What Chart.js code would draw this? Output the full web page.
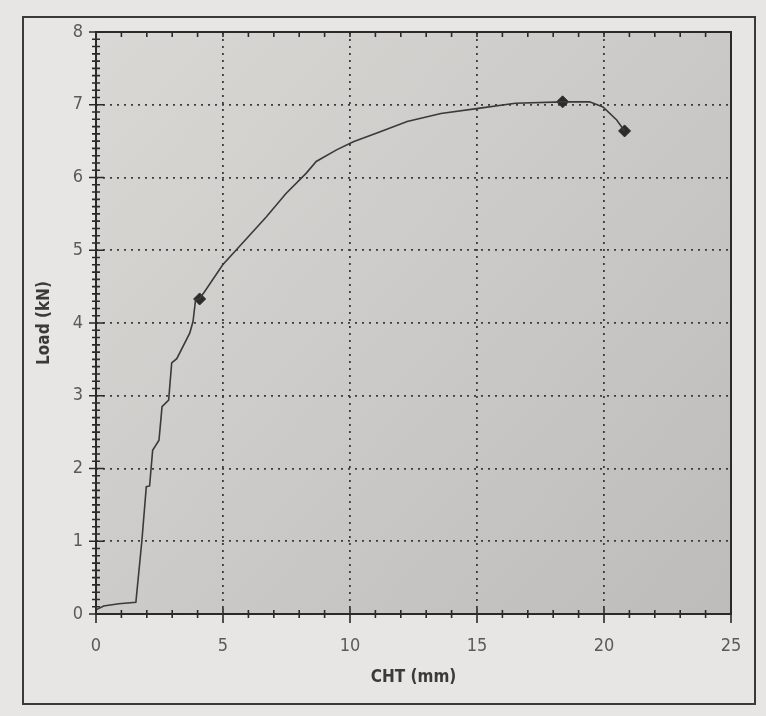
<!DOCTYPE html>
<html>
<head>
<meta charset="utf-8">
<script src="https://cdn.jsdelivr.net/npm/chart.js@4.4.0/dist/chart.umd.min.js"></script>
<style>
  html, body { margin: 0; padding: 0; background: #e8e6e4; }
  #wrap { width: 766px; height: 716px; }
</style>
</head>
<body>
<div id="wrap"><canvas id="loadChart" width="766" height="716"></canvas></div>
<script>
// load / displacement curve
const cht = [0.02, 0.3, 0.9, 1.57, 1.81, 1.98, 2.11, 2.23, 2.48, 2.60, 2.86, 2.98, 3.18, 3.69, 3.82, 3.92,
  4.08, 4.99, 5.77, 6.71, 7.48, 8.28, 8.67, 9.47, 10.13, 11.19, 12.25, 13.58, 15.05, 16.51,
  18.37, 19.43, 19.96, 20.5, 20.81];
const load = [0.06, 0.11, 0.14, 0.16, 1.02, 1.75, 1.76, 2.25, 2.39, 2.85, 2.94, 3.45, 3.51, 3.86, 4.02, 4.32,
  4.33, 4.80, 5.10, 5.46, 5.78, 6.06, 6.22, 6.38, 6.49, 6.63, 6.77, 6.88, 6.95, 7.02,
  7.04, 7.04, 6.97, 6.79, 6.64];

// diamond markers
const markerCht = [4.08, 18.37, 20.81];
const markerLoad = [4.33, 7.04, 6.64];

const xTicks = [0, 5, 10, 15, 20, 25];
const yTicks = [0, 1, 2, 3, 4, 5, 6, 7, 8];

const narrow = '"Liberation Sans Narrow", "DejaVu Sans Condensed", "Roboto", sans-serif';

const toPoints = (xs, ys) => xs.map((x, i) => ({ x: x, y: ys[i] }));

// background, outer frame, plot panel, axis lines and tick marks
const framePlugin = {
    id: 'frame',
    beforeDraw(chart) {
        const ctx = chart.ctx;
        const a = chart.chartArea;
        ctx.save();
        ctx.fillStyle = '#e8e6e4';
        ctx.fillRect(0, 0, chart.width, chart.height);

        ctx.strokeStyle = '#3a3a3a';
        ctx.lineWidth = 2;
        ctx.strokeRect(23, 17, 732, 687);

        const g = ctx.createLinearGradient(a.left, a.top, a.right, a.bottom);
        g.addColorStop(0, '#dad8d5');
        g.addColorStop(1, '#bdbcba');
        ctx.fillStyle = g;
        ctx.fillRect(a.left, a.top, a.right - a.left, a.bottom - a.top);
        ctx.restore();
    },
    afterDraw(chart) {
        const ctx = chart.ctx;
        const a = chart.chartArea;
        const xs = chart.scales.x;
        const ys = chart.scales.y;
        ctx.save();
        ctx.strokeStyle = '#2a2a2a';
        ctx.lineWidth = 2;
        ctx.strokeRect(a.left, a.top, a.right - a.left, a.bottom - a.top);

        ctx.lineWidth = 1.6;
        ctx.beginPath();
        for (let v = 0; v <= 25; v++) {
            const px = xs.getPixelForValue(v);
            const major = v % 5 === 0;
            ctx.moveTo(px, a.bottom - (major ? 6 : 4));
            ctx.lineTo(px, a.bottom + (major ? 9 : 4));
            if (v > 0 && v < 25) {
                ctx.moveTo(px, a.top);
                ctx.lineTo(px, a.top + 5);
            }
        }
        for (let i = 0; i <= 80; i++) {
            const py = ys.getPixelForValue(i / 10);
            const major = i % 10 === 0;
            ctx.moveTo(a.left - (major ? 7 : 4), py);
            ctx.lineTo(a.left + (major ? 8 : 4), py);
        }
        ctx.stroke();
        ctx.restore();
    }
};

new Chart(document.getElementById('loadChart'), {
    type: 'scatter',
    data: {
        datasets: [{
            label: 'Load',
            data: toPoints(cht, load),
            showLine: true,
            borderColor: '#3a3a3a',
            borderWidth: 1.6,
            pointRadius: 0,
            tension: 0
        }, {
            label: 'Markers',
            data: toPoints(markerCht, markerLoad),
            showLine: false,
            pointStyle: 'rectRot',
            pointRadius: 6,
            backgroundColor: '#2b2b2b',
            borderColor: '#2b2b2b',
            borderWidth: 1
        }]
    },
    options: {
        responsive: false,
        animation: false,
        layout: { padding: { left: 0, top: 32, right: 35, bottom: 0 } },
        plugins: {
            legend: { display: false },
            tooltip: { enabled: false }
        },
        scales: {
            x: {
                type: 'linear',
                min: 0,
                max: 25,
                afterBuildTicks: (scale) => { scale.ticks = xTicks.map(v => ({ value: v })); },
                afterFit: (scale) => { scale.height = 102; },
                grid: {
                    drawTicks: false,
                    color: (c) => (c.tick && (c.tick.value === 0 || c.tick.value === 25)) ? 'rgba(0,0,0,0)' : '#3c3c3c',
                    lineWidth: 1.8
                },
                border: { display: false, dash: [2, 5] },
                ticks: {
                    padding: 22,
                    color: '#5a5a5a',
                    font: { family: narrow, size: 18 }
                },
                title: {
                    display: true,
                    text: 'CHT (mm)',
                    color: '#3a3a3a',
                    font: { family: narrow, size: 17, weight: 'bold' },
                    padding: { top: 28, bottom: 28 }
                }
            },
            y: {
                type: 'linear',
                min: 0,
                max: 8,
                afterBuildTicks: (scale) => { scale.ticks = yTicks.map(v => ({ value: v })); },
                afterFit: (scale) => { scale.width = 96; },
                grid: {
                    drawTicks: false,
                    color: (c) => (c.tick && (c.tick.value === 0 || c.tick.value === 8)) ? 'rgba(0,0,0,0)' : '#3c3c3c',
                    lineWidth: 1.8
                },
                border: { display: false, dash: [2, 5] },
                ticks: {
                    padding: 13,
                    color: '#5a5a5a',
                    font: { family: narrow, size: 18 }
                },
                title: {
                    display: true,
                    text: 'Load (kN)',
                    color: '#3a3a3a',
                    font: { family: narrow, size: 17, weight: 'bold' },
                    padding: { top: 34, bottom: 34 }
                }
            }
        }
    },
    plugins: [framePlugin]
});
</script>
</body>
</html>
